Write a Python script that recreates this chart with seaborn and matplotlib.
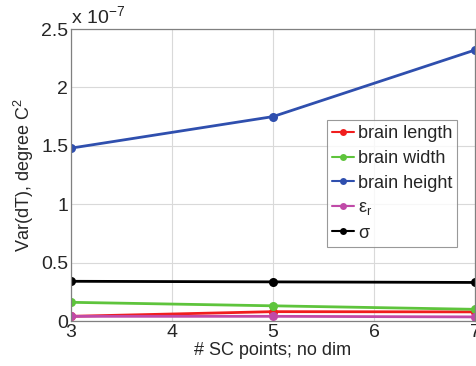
import numpy as np
import pandas as pd
import seaborn as sns
import matplotlib
matplotlib.use("Agg")
import matplotlib.pyplot as plt
from matplotlib.ticker import FuncFormatter

# Number of stochastic collocation points
sc_points = [3, 5, 7]

# Variance of dT (degree C^2) per uncertain input
var_brain_length = [0.04e-7, 0.08e-7, 0.078e-7]
var_brain_width = [0.16e-7, 0.13e-7, 0.10e-7]
var_brain_height = [1.48e-7, 1.75e-7, 2.32e-7]
var_eps_r = [0.04e-7, 0.04e-7, 0.035e-7]
var_sigma = [0.34e-7, 0.335e-7, 0.33e-7]

series_labels = ["brain length", "brain width", "brain height", r"$\varepsilon_r$", r"$\sigma$"]
series_values = [var_brain_length, var_brain_width, var_brain_height, var_eps_r, var_sigma]
series_colors = ["#f01e1e", "#5ec43c", "#2f4fae", "#c04aa8", "#000000"]

x_ticks = [3, 4, 5, 6, 7]
y_ticks = [0, 0.5e-7, 1e-7, 1.5e-7, 2e-7, 2.5e-7]

rows = []
for lab, vals in zip(series_labels, series_values):
    for x, v in zip(sc_points, vals):
        rows.append({"points": x, "var": v, "series": lab})
df = pd.DataFrame(rows)

sns.set_style("whitegrid")
plt.rcParams["font.family"] = ["Liberation Sans", "DejaVu Sans"]
plt.rcParams["mathtext.fontset"] = "custom"
plt.rcParams["mathtext.rm"] = "Liberation Sans"
plt.rcParams["mathtext.it"] = "Liberation Sans"

fig = plt.figure(figsize=(4.77, 3.66), dpi=100)
ax = fig.add_axes([71 / 477, 1 - 321 / 366, 404 / 477, 292 / 366])

sns.lineplot(data=df, x="points", y="var", hue="series", hue_order=series_labels,
             palette=series_colors, marker="o", markersize=6.5, markeredgewidth=0,
             linewidth=2, ax=ax, legend=True)

ax.set_xlim(3, 7)
ax.set_ylim(0, 2.5e-7)
ax.set_xticks(x_ticks)
ax.set_yticks(y_ticks)
ax.yaxis.set_major_formatter(FuncFormatter(lambda v, p: f"{v / 1e-7:g}"))
ax.tick_params(axis="both", labelsize=14, length=0, pad=2)
ax.grid(True, color="#d9d9d9", linewidth=0.8)
for s in ax.spines.values():
    s.set_visible(True)
    s.set_color("#808080")
    s.set_linewidth(0.9)
ax.set_facecolor("white")

ax.set_xlabel("# SC points; no dim", fontsize=13, labelpad=1)
ax.set_ylabel(r"Var(dT), degree C$^2$", fontsize=13, labelpad=4)
ax.text(0.0, 1.005, r"x 10$^{-7}$", transform=ax.transAxes, fontsize=14,
        ha="left", va="bottom")

leg = ax.legend(loc="upper left", bbox_to_anchor=(256 / 404, 1 - 91 / 292),
                fontsize=13, frameon=True, fancybox=False, handlelength=1.2,
                handletextpad=0.2, borderpad=0.3, labelspacing=0.42,
                borderaxespad=0)
leg.get_frame().set_edgecolor("#808080")
leg.get_frame().set_linewidth(0.8)
for h in leg.get_lines():
    h.set_markersize(5)
    h.set_linewidth(1.5)

fig.savefig("out.png", dpi=100)
